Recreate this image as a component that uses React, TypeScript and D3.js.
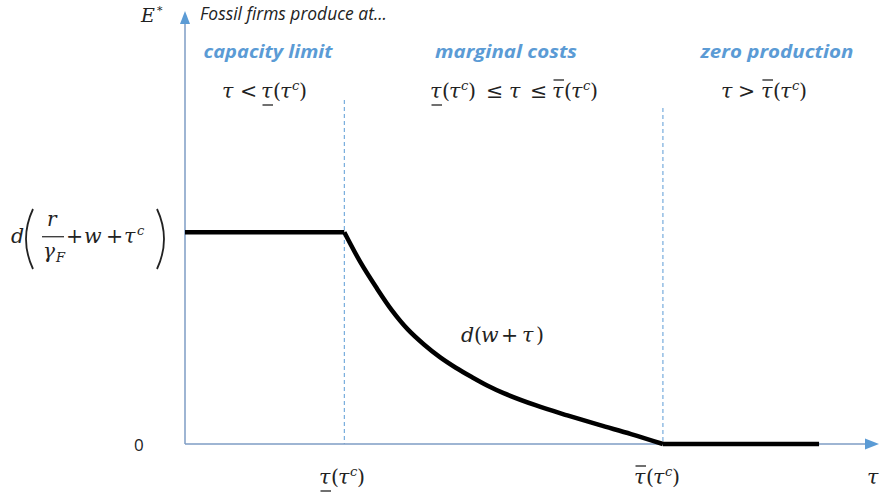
import React from 'react';
import * as d3 from 'd3';

// regime boundaries and curve samples (tau in model units, E normalised to capacity)
const tauLow = 1;
const tauHigh = 3;
const tauEnd = 3.98;
const capacityE = 1;

const capTau = [0, tauLow];
const capE = [capacityE, capacityE];

const curveTau = [1, 1.1, 1.2, 1.3, 1.4, 1.5, 1.6, 1.7, 1.8, 1.9, 2.0, 2.2, 2.4, 2.6, 2.8, 3.0];
const curveE = [1.0, 0.86, 0.74, 0.63, 0.54, 0.47, 0.41, 0.36, 0.316, 0.275, 0.24, 0.183, 0.135, 0.09, 0.047, 0.0];

const zeroTau = [tauHigh, tauEnd];
const zeroE = [0, 0];

const regimeTitles = ['capacity limit', 'marginal costs', 'zero production'];

const W = 883;
const H = 498;
const BLUE = '#5B9BD5';
const AXIS = '#7E9DC4';
const INK = '#222';
const MATH = "'DejaVu Serif', 'Liberation Serif', serif";
const SANS = "'Open Sans', 'Noto Sans', sans-serif";

type Tok = { s: string; x: number; sup?: boolean; sub?: boolean; bar?: 'u' | 'o'; up?: boolean };

// little math typesetter: one glyph group per token, placed by hand
function MathRow({ toks, y, size = 20.5 }: { toks: Tok[]; y: number; size?: number }) {
  return (
    <g fontFamily={MATH} fill={INK}>
      {toks.map((t, i) => (
        <text
          key={i}
          x={t.x}
          y={t.sup ? y - size * 0.4 : t.sub ? y + 4 : y}
          fontSize={t.sup || t.sub ? size * 0.64 : size}
          fontStyle={t.up ? 'normal' : 'italic'}
        >
          {t.s}
        </text>
      ))}
      {toks
        .filter((t) => t.bar)
        .map((t, i) => (
          <line
            key={'b' + i}
            x1={t.x + 1.5}
            x2={t.x + 12}
            y1={t.bar === 'u' ? y + 7 : y - 18}
            y2={t.bar === 'u' ? y + 7 : y - 18}
            stroke={INK}
            strokeWidth={1.3}
          />
        ))}
    </g>
  );
}

// tau(tau^c) with a bar, starting at x0
const tauOf = (x0: number, bar: 'u' | 'o'): Tok[] => [
  { s: 'τ', x: x0, bar },
  { s: '(', x: x0 + 12, up: true },
  { s: 'τ', x: x0 + 19 },
  { s: 'c', x: x0 + 31, sup: true },
  { s: ')', x: x0 + 38, up: true }
];

export default function App(): JSX.Element {
  const x = d3.scaleLinear().domain([0, 4.35]).range([185, 878]);
  const y = d3.scaleLinear().domain([0, 2.04]).range([444, 12]);

  const lin = d3
    .line<[number, number]>()
    .x((d) => x(d[0]))
    .y((d) => y(d[1]));
  const smooth = d3
    .line<[number, number]>()
    .x((d) => x(d[0]))
    .y((d) => y(d[1]))
    .curve(d3.curveCatmullRom.alpha(0.5));

  const zip = (a: number[], b: number[]) => a.map((v, i) => [v, b[i]] as [number, number]);

  const x0 = x(0);
  const y0 = y(0);
  const xLow = x(tauLow);
  const xHigh = x(tauHigh);
  const yCap = y(capacityE);

  // header columns centred over each regime
  const titleX = [268, 506, 777];
  const titleW = [129, 142, 153];

  const row1: Tok[] = [
    { s: 'τ', x: 222 },
    { s: '<', x: 240, up: true },
    ...tauOf(261, 'u'),
    ...tauOf(430, 'u'),
    { s: '≤', x: 486, up: true },
    { s: 'τ', x: 509 },
    { s: '≤', x: 530, up: true },
    ...tauOf(552, 'o'),
    { s: 'τ', x: 721 },
    { s: '>', x: 738, up: true },
    ...tauOf(761, 'o')
  ];

  const bottom: Tok[] = [...tauOf(319, 'u'), ...tauOf(634, 'o'), { s: 'τ', x: 867 }];

  const capLabel: Tok[] = [
    { s: 'd', x: 11 },
    { s: '+', x: 66, up: true },
    { s: 'w', x: 84 },
    { s: '+', x: 106, up: true },
    { s: 'τ', x: 124 },
    { s: 'c', x: 137, sup: true }
  ];

  const slopeLabel: Tok[] = [
    { s: 'd', x: 461 },
    { s: '(', x: 474, up: true },
    { s: 'w', x: 481 },
    { s: '+', x: 501, up: true },
    { s: 'τ', x: 522 },
    { s: ')', x: 536, up: true }
  ];

  return (
    <svg width={W} height={H} style={{ position: 'absolute', left: 0, top: 0, background: '#fff' }}>
      {/* dashed regime boundaries */}
      <line x1={xLow} x2={xLow} y1={100} y2={y0} stroke={BLUE} strokeWidth={1} strokeDasharray="4,3" />
      <line x1={xHigh} x2={xHigh} y1={108} y2={y0} stroke={BLUE} strokeWidth={1} strokeDasharray="4,3" />

      {/* axes */}
      <line x1={x0} x2={x0} y1={y0} y2={23} stroke={AXIS} strokeWidth={1.5} />
      <polygon points={`${x0 - 5},${24} ${x0 + 5},${24} ${x0},${11}`} fill={BLUE} />
      <line x1={x0} x2={866} y1={y0} y2={y0} stroke={AXIS} strokeWidth={1.5} />
      <polygon points={`${865},${y0 - 5.5} ${865},${y0 + 5.5} ${879},${y0}`} fill={BLUE} />

      {/* emission path */}
      <path d={lin(zip(capTau, capE)) ?? ''} fill="none" stroke="#000" strokeWidth={4.5} />
      <path d={smooth(zip(curveTau, curveE)) ?? ''} fill="none" stroke="#000" strokeWidth={4.5} />
      <path d={lin(zip(zeroTau, zeroE)) ?? ''} fill="none" stroke="#000" strokeWidth={4.5} />

      {/* top texts */}
      <text x={141} y={22} fontFamily={MATH} fontStyle="italic" fontSize={19} fill={INK}>
        E
      </text>
      <text x={157} y={14} fontFamily={MATH} fontSize={11} fill={INK}>
        *
      </text>
      <text
        x={200}
        y={20}
        fontFamily={SANS}
        fontStyle="italic"
        fontSize={17.5}
        fill={INK}
        textLength={187}
        lengthAdjust="spacingAndGlyphs"
      >
        Fossil firms produce at...
      </text>
      {regimeTitles.map((t, i) => (
        <text
          key={t}
          x={titleX[i] - titleW[i] / 2}
          y={58}
          fontFamily={SANS}
          fontStyle="italic"
          fontWeight="bold"
          fontSize={18.5}
          fill={BLUE}
          textLength={titleW[i]}
          lengthAdjust="spacingAndGlyphs"
        >
          {t}
        </text>
      ))}

      {/* regime conditions */}
      <MathRow toks={row1} y={98} />

      {/* capacity level label */}
      <MathRow toks={capLabel} y={243} />
      <text x={47} y={226} fontFamily={MATH} fontStyle="italic" fontSize={20} fill={INK}>
        r
      </text>
      <line x1={42} x2={64} y1={yCap + 4.5} y2={yCap + 4.5} stroke={INK} strokeWidth={1.2} />
      <text x={43} y={258} fontFamily={MATH} fontStyle="italic" fontSize={20} fill={INK}>
        γ
      </text>
      <text x={56} y={262} fontFamily={MATH} fontStyle="italic" fontSize={13} fill={INK}>
        F
      </text>
      <path d="M33,209 Q19,239 33,269" fill="none" stroke={INK} strokeWidth={1.8} />
      <path d="M157,209 Q171,239 157,269" fill="none" stroke={INK} strokeWidth={1.8} />

      {/* curve label */}
      <MathRow toks={slopeLabel} y={342} />

      {/* axis labels */}
      <text x={134} y={451} fontFamily={SANS} fontSize={17} fill={INK}>
        0
      </text>
      <MathRow toks={bottom} y={484} />
    </svg>
  );
}
